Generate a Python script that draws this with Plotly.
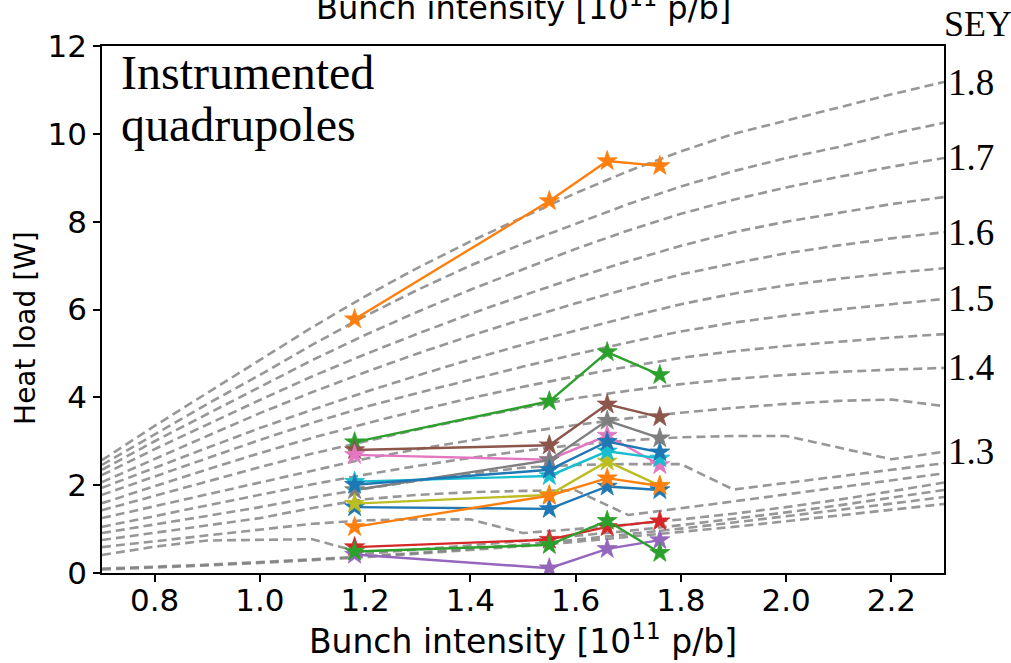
import plotly.graph_objects as go

# Bunch intensity grid of the simulated heat-load curves [1e11 p/b]
intensity_grid = [0.7, 0.8, 0.9, 1.0, 1.1, 1.2, 1.3, 1.4, 1.5, 1.6,
                  1.7, 1.8, 1.9, 2.0, 2.1, 2.2, 2.3]

# Simulated heat load [W] for each SEY value
sim_sey_100 = [0.08, 0.12, 0.17, 0.23, 0.29, 0.36, 0.44, 0.52, 0.61, 0.71, 0.82, 0.93, 1.05, 1.18, 1.31, 1.44, 1.57]
sim_sey_105 = [0.10, 0.14, 0.19, 0.25, 0.31, 0.38, 0.46, 0.55, 0.65, 0.76, 0.88, 1.01, 1.15, 1.29, 1.43, 1.58, 1.73]
sim_sey_110 = [0.41, 0.60, 0.74, 0.76, 0.77, 0.44, 0.53, 0.63, 0.73, 0.84, 0.96, 1.09, 1.23, 1.38, 1.54, 1.71, 1.89]
sim_sey_115 = [0.59, 0.72, 0.85, 0.98, 1.12, 1.20, 1.22, 1.22, 0.91, 1.00, 1.10, 1.22, 1.35, 1.50, 1.67, 1.86, 2.06]
sim_sey_120 = [0.75, 0.92, 1.08, 1.25, 1.48, 1.68, 1.78, 1.84, 1.87, 1.88, 1.32, 1.47, 1.63, 1.79, 1.95, 2.11, 2.27]
sim_sey_125 = [0.91, 1.10, 1.30, 1.50, 1.72, 1.92, 2.10, 2.26, 2.40, 2.46, 2.48, 2.48, 1.90, 2.05, 2.20, 2.35, 2.50]
sim_sey_130 = [1.05, 1.30, 1.54, 1.78, 2.02, 2.24, 2.44, 2.62, 2.78, 2.92, 3.02, 3.09, 3.12, 3.12, 2.86, 2.59, 2.76]
sim_sey_135 = [1.25, 1.52, 1.80, 2.07, 2.34, 2.60, 2.82, 3.02, 3.20, 3.37, 3.52, 3.65, 3.76, 3.85, 3.92, 3.95, 3.80]
sim_sey_140 = [1.43, 1.76, 2.09, 2.41, 2.72, 3.00, 3.27, 3.52, 3.76, 3.98, 4.15, 4.30, 4.42, 4.51, 4.58, 4.63, 4.67]
sim_sey_145 = [1.59, 1.98, 2.36, 2.73, 3.08, 3.40, 3.70, 3.98, 4.24, 4.48, 4.70, 4.90, 5.05, 5.17, 5.27, 5.36, 5.44]
sim_sey_150 = [1.78, 2.20, 2.62, 3.03, 3.42, 3.78, 4.10, 4.40, 4.70, 4.98, 5.25, 5.50, 5.70, 5.86, 6.00, 6.12, 6.24]
sim_sey_155 = [1.94, 2.40, 2.85, 3.30, 3.72, 4.12, 4.50, 4.86, 5.20, 5.52, 5.83, 6.12, 6.36, 6.55, 6.70, 6.83, 6.94]
sim_sey_160 = [2.07, 2.60, 3.12, 3.64, 4.12, 4.57, 5.00, 5.40, 5.78, 6.14, 6.48, 6.80, 7.05, 7.28, 7.46, 7.62, 7.76]
sim_sey_165 = [2.23, 2.82, 3.38, 3.94, 4.48, 4.98, 5.45, 5.90, 6.32, 6.72, 7.10, 7.45, 7.76, 8.00, 8.20, 8.40, 8.56]
sim_sey_170 = [2.35, 3.00, 3.62, 4.24, 4.85, 5.42, 5.95, 6.45, 6.92, 7.38, 7.80, 8.18, 8.50, 8.78, 9.02, 9.25, 9.45]
sim_sey_175 = [2.46, 3.15, 3.85, 4.51, 5.20, 5.85, 6.45, 7.00, 7.50, 7.95, 8.40, 8.80, 9.15, 9.45, 9.70, 10.00, 10.25]
sim_sey_180 = [2.57, 3.35, 4.10, 4.85, 5.60, 6.30, 6.95, 7.55, 8.10, 8.65, 9.15, 9.60, 10.00, 10.30, 10.60, 10.90, 11.18]

sey_curves = [
    (1.00, sim_sey_100), (1.05, sim_sey_105), (1.10, sim_sey_110), (1.15, sim_sey_115),
    (1.20, sim_sey_120), (1.25, sim_sey_125), (1.30, sim_sey_130), (1.35, sim_sey_135),
    (1.40, sim_sey_140), (1.45, sim_sey_145), (1.50, sim_sey_150), (1.55, sim_sey_155),
    (1.60, sim_sey_160), (1.65, sim_sey_165), (1.70, sim_sey_170), (1.75, sim_sey_175),
    (1.80, sim_sey_180),
]
labelled_sey = [1.3, 1.4, 1.5, 1.6, 1.7, 1.8]

# Measured heat loads of the instrumented quadrupoles
meas_intensity = [1.18, 1.55, 1.66, 1.76]
quad_a = [1.50, 1.46, 1.97, 1.89]
quad_b = [5.78, 8.47, 9.38, 9.27]
quad_c = [2.98, 3.91, 5.03, 4.51]
quad_d = [0.59, 0.76, 1.05, 1.18]
quad_e = [0.42, 0.11, 0.55, 0.75]
quad_f = [2.80, 2.91, 3.84, 3.55]
quad_g = [2.69, 2.58, 3.13, 2.46]
quad_h = [1.89, 2.57, 3.47, 3.07]
quad_i = [1.58, 1.78, 2.54, 1.99]
quad_j = [2.08, 2.21, 2.77, 2.61]
quad_k = [2.01, 2.35, 2.99, 2.75]
quad_l = [1.05, 1.76, 2.16, 1.98]
quad_m = [0.49, 0.64, 1.19, 0.46]

quad_series = [quad_a, quad_b, quad_c, quad_d, quad_e, quad_f, quad_g,
               quad_h, quad_i, quad_j, quad_k, quad_l, quad_m]
palette = ["#1f77b4", "#ff7f0e", "#2ca02c", "#d62728", "#9467bd",
           "#8c564b", "#e377c2", "#7f7f7f", "#bcbd22", "#17becf"]

fig = go.Figure()

for sey, loads in sey_curves:
    fig.add_trace(go.Scatter(
        x=intensity_grid, y=loads, mode="lines",
        line=dict(color="rgba(128,128,128,0.82)", width=2.6, dash="9px,5px"),
        hoverinfo="skip", showlegend=False,
    ))

for i, loads in enumerate(quad_series):
    c = palette[i % len(palette)]
    fig.add_trace(go.Scatter(
        x=meas_intensity, y=loads, mode="lines+markers",
        line=dict(color=c, width=2.4),
        marker=dict(symbol="star", size=15, color=c, line=dict(color=c, width=0.8)),
        showlegend=False,
    ))

serif = "Liberation Serif, Times New Roman, serif"
sans = "DejaVu Sans"
annotations = []
for sey, loads in sey_curves:
    if any(abs(sey - s) < 1e-9 for s in labelled_sey):
        annotations.append(dict(
            x=1, xref="paper", y=loads[-1], yref="y", xanchor="left", yanchor="middle",
            xshift=2, text=f"{sey:.1f}", showarrow=False,
            font=dict(family=serif, size=37, color="black"),
        ))
annotations.append(dict(
    x=1, xref="paper", y=1.0, yref="paper", xanchor="left", yanchor="bottom",
    xshift=-2, yshift=0, text="SEY", showarrow=False,
    font=dict(family=serif, size=36, color="black"),
))
# Two-line panel label, drawn as two lines with tight spacing
annotations.append(dict(
    x=0.0, xref="paper", y=1.0, yref="paper", xanchor="left", yanchor="top",
    xshift=17, yshift=2, align="left", text="Instrumented", showarrow=False,
    font=dict(family=serif, size=48, color="black"),
))
annotations.append(dict(
    x=0.0, xref="paper", y=1.0, yref="paper", xanchor="left", yanchor="top",
    xshift=17, yshift=-50, align="left", text="quadrupoles", showarrow=False,
    font=dict(family=serif, size=48, color="black"),
))
annotations.append(dict(
    x=0.5, xref="paper", y=1.0, yref="paper", xanchor="center", yanchor="bottom",
    yshift=17, text="Bunch intensity [10<sup>11</sup> p/b]", showarrow=False,
    font=dict(family=sans, size=32, color="black"),
))
# y-axis label
annotations.append(dict(
    x=-0.0903, xref="paper", y=0.465, yref="paper", xanchor="center", yanchor="middle",
    textangle=-90, text="Heat load [W]", showarrow=False,
    font=dict(family=sans, size=28, color="black"),
))

axis_common = dict(
    showline=True, linecolor="black", linewidth=1.5, mirror=True,
    ticks="outside", ticklen=7, tickwidth=1.5, tickcolor="black",
    showgrid=False, zeroline=False,
    tickfont=dict(family=sans, size=31, color="black"),
)

fig.update_layout(
    width=1011, height=663,
    margin=dict(l=102, r=67, t=46, b=90),
    paper_bgcolor="white", plot_bgcolor="white",
    showlegend=False,
    annotations=annotations,
    xaxis=dict(range=[0.7, 2.3], tickvals=[0.8, 1.0, 1.2, 1.4, 1.6, 1.8, 2.0, 2.2],
               ticktext=["0.8", "1.0", "1.2", "1.4", "1.6", "1.8", "2.0", "2.2"],
               ticklabelstandoff=-8,
               title=dict(text="Bunch intensity [10<sup>11</sup> p/b]", standoff=6,
                          font=dict(family=sans, size=33, color="black")),
               **axis_common),
    yaxis=dict(range=[0, 12], tickvals=[0, 2, 4, 6, 8, 10, 12],
               **axis_common),
)

fig.write_html("out.html")
